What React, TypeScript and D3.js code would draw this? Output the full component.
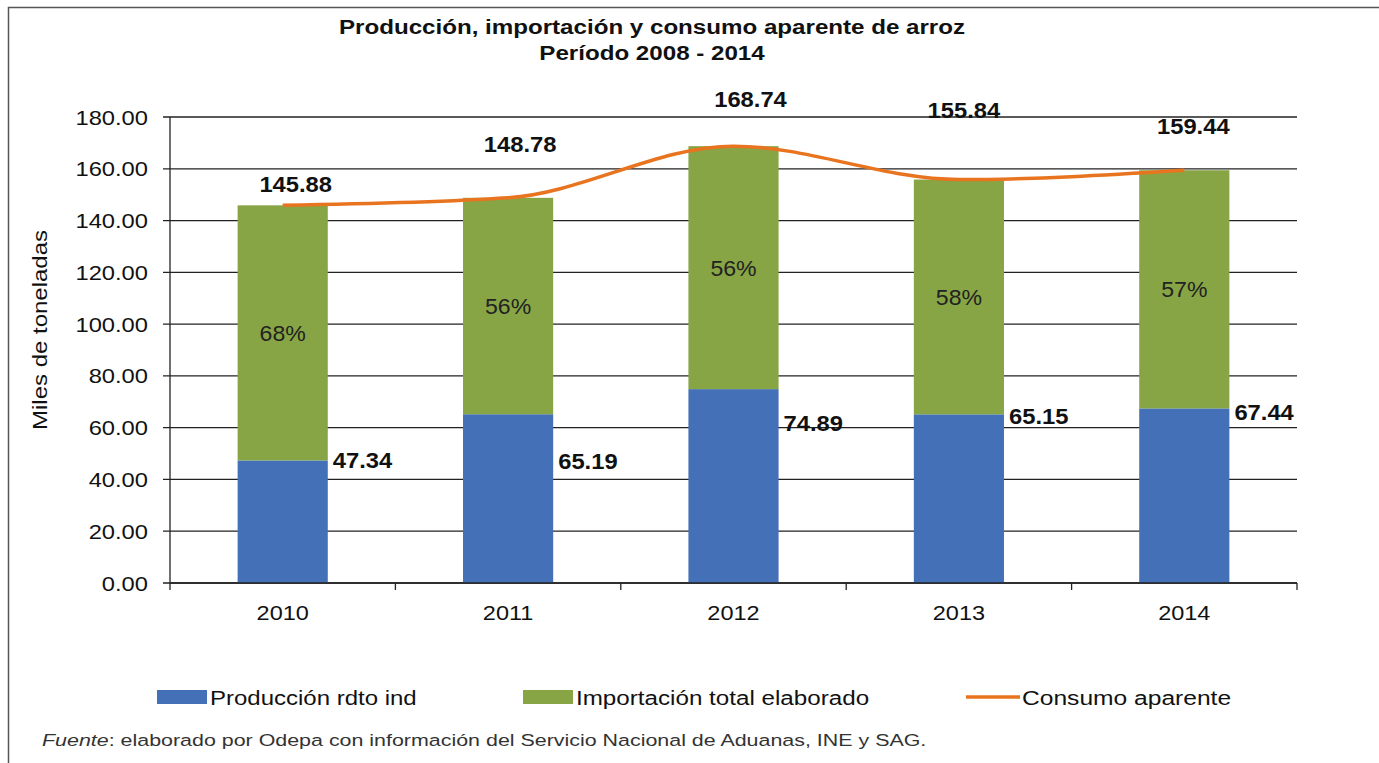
import React from 'react';
import * as d3 from 'd3';

// Datos (miles de toneladas)
const years = ['2010', '2011', '2012', '2013', '2014'];
const produccion = [47.34, 65.19, 74.89, 65.15, 67.44];
const importacion = [98.54, 83.59, 93.85, 90.69, 92.0];
const consumo = [145.88, 148.78, 168.74, 155.84, 159.44];
const pctLabels = ['68%', '56%', '56%', '58%', '57%'];
const yTicks = [0, 20, 40, 60, 80, 100, 120, 140, 160, 180];

// label nudges, as placed by hand in the original
const consumoDx = [13, 12, 17, 5, 9];
const consumoDy = [-13, -46, -39, -62, -36];
const prodDy = [0, 47, 34, 2, 4];

const W = 1379;
const H = 763;
const margin = { top: 117, right: 82, bottom: 180, left: 170 };
const font = '"Liberation Sans", Arial, sans-serif';

const BLUE = '#4470B8';
const GREEN = '#87A545';
const ORANGE = '#E8741F';

// the original's text is a bit stretched sideways
function SText({ x, y, sx = 1, rotate = 0, anchor = 'start', children, ...rest }: any) {
  return (
    <text
      transform={`translate(${x},${y}) rotate(${rotate}) scale(${sx},1)`}
      textAnchor={anchor}
      {...rest}
    >
      {children}
    </text>
  );
}

export default function App() {
  const x = d3.scaleBand()
    .domain(years)
    .range([margin.left, W - margin.right])
    .padding(0);

  const y = d3.scaleLinear()
    .domain([0, 180])
    .range([H - margin.bottom, margin.top]);

  const barW = x.bandwidth() * 0.4;
  const cx = (d: string) => (x(d) ?? 0) + x.bandwidth() / 2;

  const line = d3.line<number>()
    .x((_, i) => cx(years[i]))
    .y(d => y(d))
    .curve(d3.curveMonotoneX);

  const x0 = margin.left;
  const x1 = W - margin.right;
  const yBase = y(0);

  return (
    <svg width={W} height={H} style={{ position: 'absolute', left: 0, top: 0, background: '#fff' }} fontFamily={font}>
      {/* frame */}
      <rect x={8.5} y={7.5} width={W + 10} height={H - 5} fill="none" stroke="#555" strokeWidth={1.5} />

      {/* title */}
      <SText x={652} y={34} sx={1.15} anchor="middle" fontSize={21} fontWeight="bold" fill="#111">
        Producción, importación y consumo aparente de arroz
      </SText>
      <SText x={652} y={60} sx={1.15} anchor="middle" fontSize={21} fontWeight="bold" fill="#111">
        Período 2008 - 2014
      </SText>

      {/* gridlines + y ticks */}
      {yTicks.map(t => (
        <g key={t}>
          <line x1={x0 - 7} x2={x1} y1={y(t)} y2={y(t)} stroke="#222" strokeWidth={1.3} />
          <SText x={x0 - 22} y={y(t) + 7.5} sx={1.13} anchor="end" fontSize={21} fill="#111">
            {t.toFixed(2)}
          </SText>
        </g>
      ))}

      {/* y axis line */}
      <line x1={x0} x2={x0} y1={y(180)} y2={yBase} stroke="#222" strokeWidth={1.3} />

      {/* y title */}
      <SText x={47} y={330} rotate={-90} sx={1.2} anchor="middle" fontSize={20} fill="#111">
        Miles de toneladas
      </SText>

      {/* bars */}
      {years.map((yr, i) => {
        const left = cx(yr) - barW / 2;
        const pTop = y(produccion[i]);
        const iTop = y(produccion[i] + importacion[i]);
        return (
          <g key={yr}>
            <rect x={left} y={pTop} width={barW} height={yBase - pTop} fill={BLUE} />
            <rect x={left} y={iTop} width={barW} height={pTop - iTop} fill={GREEN} />
          </g>
        );
      })}

      {/* x axis */}
      <line x1={x0} x2={x1} y1={yBase} y2={yBase} stroke="#222" strokeWidth={1.5} />
      {[...years.map(d => x(d) ?? 0), x1].map((t, i) => (
        <line key={i} x1={t} x2={t} y1={yBase} y2={yBase + 7} stroke="#222" strokeWidth={1.3} />
      ))}
      {years.map(yr => (
        <SText key={yr} x={cx(yr)} y={yBase + 37} sx={1.12} anchor="middle" fontSize={21} fill="#111">
          {yr}
        </SText>
      ))}

      {/* consumo line */}
      <path d={line(consumo) ?? ''} fill="none" stroke={ORANGE} strokeWidth={3.5} />

      {/* labels */}
      {years.map((yr, i) => {
        const pTop = y(produccion[i]);
        const iTop = y(produccion[i] + importacion[i]);
        return (
          <g key={yr}>
            <SText x={cx(yr)} y={(pTop + iTop) / 2 + 8} sx={1.05} anchor="middle" fontSize={22} fill="#222">
              {pctLabels[i]}
            </SText>
            <SText x={cx(yr) + barW / 2 + 5} y={pTop + prodDy[i] + 8} sx={1.08} fontSize={22} fontWeight="bold" fill="#111">
              {produccion[i].toFixed(2)}
            </SText>
            <SText x={cx(yr) + consumoDx[i]} y={y(consumo[i]) + consumoDy[i]} sx={1.08} anchor="middle" fontSize={22} fontWeight="bold" fill="#111">
              {consumo[i].toFixed(2)}
            </SText>
          </g>
        );
      })}

      {/* legend */}
      <rect x={157} y={690} width={50} height={14} fill={BLUE} />
      <SText x={210} y={705} sx={1.2} fontSize={20} fill="#111">Producción rdto ind</SText>
      <rect x={523} y={690} width={50} height={14} fill={GREEN} />
      <SText x={576} y={705} sx={1.21} fontSize={20} fill="#111">Importación total elaborado</SText>
      <line x1={966} x2={1020} y1={697} y2={697} stroke={ORANGE} strokeWidth={3.5} />
      <SText x={1022} y={705} sx={1.23} fontSize={20} fill="#111">Consumo aparente</SText>

      {/* source */}
      <SText x={42} y={746} sx={1.26} fontSize={17} fill="#333">
        <tspan fontStyle="italic">Fuente</tspan>: elaborado por Odepa con información del Servicio Nacional de Aduanas, INE y SAG.
      </SText>
    </svg>
  );
}
